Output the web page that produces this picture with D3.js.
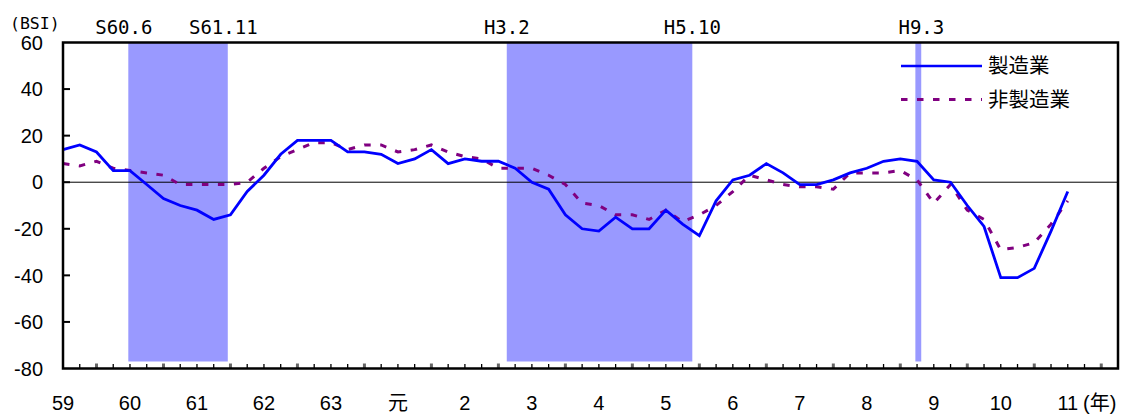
<!DOCTYPE html>
<html><head><meta charset="utf-8">
<script src="https://cdn.jsdelivr.net/npm/d3@7"></script>
<style>html,body{margin:0;padding:0;background:#fff;}svg{display:block;}</style>
</head><body>
<svg id="c" width="1125" height="414"></svg>
<script>
// quarterly index 0..60 (S59 .. H11)
const manufacturing = [14,16,13,5,5,-1,-7,-10,-12,-16,-14,-4,3,12,18,18,18,13,13,12,8,10,14,8,10,9,9,6,0,-3,-14,-20,-21,-15,-20,-20,-12,-18,-23,-8,1,3,8,4,-1,-1,1,4,6,9,10,9,1,0,-10,-19,-41,-41,-37,-21,-4];
const nonManufacturing = [8,7,9,6,5,4,3,-1,-1,-1,-1,0,6,11,14,17,17,14,16,16,13,14,16,13,11,10,6,6,6,3,-1,-9,-10,-14,-14,-16,-12,-17,-14,-10,-4,3,1,-1,-2,-2,-3,4,4,4,5,1,-9,-1,-12,-16,-29,-28,-26,-18,-8];
const yearLabels = ["59","60","61","62","63","元","2","3","4","5","6","7","8","9","10","11"];
const yTicks = [60,40,20,0,-20,-40,-60,-80];
// recession bands (quarter index start/end) and their labels
const bandStart = [3.9, 26.5, 50.9];
const bandEnd = [9.84, 37.58, 51.25];
const bandLabels = [["S60.6","S61.11"],["H3.2","H5.10"],["H9.3",null]];
const seriesNames = ["製造業","非製造業"];

const svg = d3.select("#c");
const L = 63, R = 1118, T = 42.5, B = 368.5;
const x = d3.scaleLinear().domain([0, 63]).range([L, R]);
const y = d3.scaleLinear().domain([-80, 60]).range([B, T]);

// bands
bandStart.forEach((s, i) => {
  svg.append("rect").attr("x", x(s)).attr("y", T).attr("width", x(bandEnd[i]) - x(s))
    .attr("height", 361.5 - T).attr("fill", "#9999ff");
});

// zero line
svg.append("line").attr("x1", L).attr("x2", R).attr("y1", y(0)).attr("y2", y(0))
  .attr("stroke", "#000").attr("stroke-width", 1);

// x ticks (quarterly)
const qt = d3.range(1, 63);
svg.selectAll(".xt").data(qt).enter().append("line")
  .attr("x1", d => x(d)).attr("x2", d => x(d))
  .attr("y1", B).attr("y2", d => d % 4 === 2 ? B - 5 : B - 4.5)
  .attr("stroke", d => d % 4 === 2 ? "#666" : "#000")
  .attr("stroke-width", d => d % 4 === 2 ? 3 : 1.3);

// y ticks
svg.selectAll(".yt").data(yTicks.filter(d => d > -80 && d < 60)).enter().append("line")
  .attr("x1", L).attr("x2", L + 7).attr("y1", d => y(d)).attr("y2", d => y(d))
  .attr("stroke", "#000").attr("stroke-width", 2);

// lines
const line = d3.line().x((d, i) => x(i)).y(d => y(d));
svg.append("path").datum(nonManufacturing).attr("d", line).attr("fill", "none")
  .attr("stroke", "#800080").attr("stroke-width", 3).attr("stroke-dasharray", "6.5,9.5");
svg.append("path").datum(manufacturing).attr("d", line).attr("fill", "none")
  .attr("stroke", "#0000ff").attr("stroke-width", 2.8).attr("stroke-linejoin", "miter");

// frame
svg.append("path").attr("d", `M${L},${B}V${T}H${R}V${B}Z`).attr("fill", "none")
  .attr("stroke", "#000").attr("stroke-width", 2.5);

// y labels
svg.selectAll(".yl").data(yTicks).enter().append("text")
  .attr("x", 43).attr("y", d => y(d)).attr("dy", "0.36em").attr("text-anchor", "end")
  .attr("font-family", "Liberation Sans, Arial, sans-serif").attr("font-size", 20)
  .text(d => d);

// x labels
svg.selectAll(".xl").data(yearLabels).enter().append("text")
  .attr("x", (d, i) => x(i * 4)).attr("y", 403).attr("dy", "0.36em").attr("text-anchor", "middle")
  .attr("font-family", "Liberation Sans, 'Noto Sans CJK JP', sans-serif").attr("font-size", 20)
  .text(d => d);
svg.append("text").attr("x", 1083).attr("y", 403).attr("dy", "0.36em")
  .attr("font-family", "Liberation Sans, 'Noto Sans CJK JP', sans-serif").attr("font-size", 20).text("(年)");

// BSI unit
svg.append("text").attr("x", 10).attr("y", 29).attr("font-family", "DejaVu Sans Mono, monospace")
  .attr("font-size", 16.5).text("(BSI)");

// band labels
bandLabels.forEach((pair, i) => {
  const pos = [bandStart[i], bandEnd[i]];
  pair.forEach((t, j) => {
    if (!t) return;
    const off = (i === 0) ? -4.5 : (i === 2 ? 6 : 0);
    svg.append("text").attr("x", x(pos[j]) + off).attr("y", 34).attr("text-anchor", "middle")
      .attr("font-family", "DejaVu Sans Mono, monospace").attr("font-size", 19).text(t);
  });
});

// legend
const lg = [{name: seriesNames[0], color: "#0000ff", dash: null, yy: 66},
            {name: seriesNames[1], color: "#800080", dash: "6.5,9.5", yy: 99.5}];
lg.forEach(d => {
  svg.append("line").attr("x1", 901).attr("x2", 982).attr("y1", d.yy).attr("y2", d.yy)
    .attr("stroke", d.color).attr("stroke-width", d.dash ? 3 : 2.6)
    .attr("stroke-dasharray", d.dash);
  svg.append("text").attr("x", 988).attr("y", d.yy).attr("dy", "0.36em")
    .attr("font-family", "'Noto Sans CJK JP', sans-serif").attr("font-size", 20.5).text(d.name);
});
</script>
</body></html>
